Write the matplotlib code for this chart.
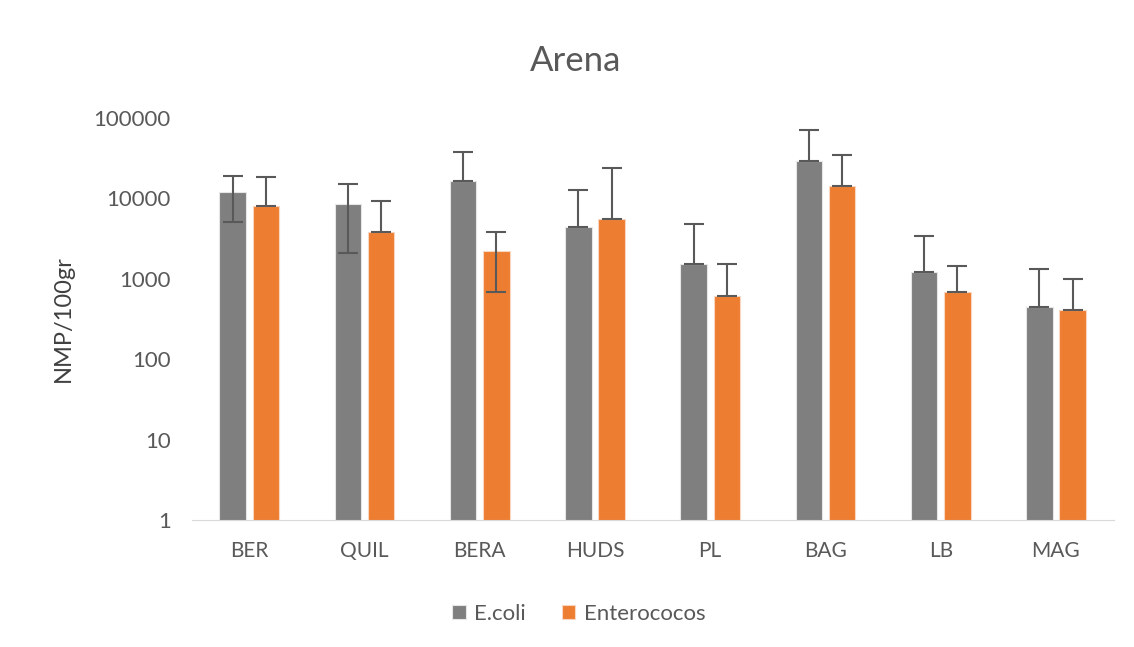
import matplotlib.pyplot as plt
import numpy as np

sites = ['BER', 'QUIL', 'BERA', 'HUDS', 'PL', 'BAG', 'LB', 'MAG']
ecoli = [12100, 8600, 16600, 4450, 1540, 29200, 1220, 440]
ecoli_err = [7000, 6500, 20500, 8250, 3260, 41800, 2130, 870]
entero = [7900, 3800, 2240, 5550, 610, 14300, 690, 405]
entero_err = [10500, 5500, 1550, 18100, 930, 19700, 745, 580]

plt.rcParams['font.family'] = ['Lato', 'DejaVu Sans']


def split_err(vals, errs):
    # excel drops the lower bar when it would go below zero on a log axis
    low = [e if v - e > 0 else 0 for v, e in zip(vals, errs)]
    return [low, errs]


fig = plt.figure(figsize=(11.34, 6.47), dpi=100)
ax = fig.add_axes([0.169, 0.196, 0.813, 0.622])

x = np.arange(len(sites))
w = 0.23
off = 0.145
err_kw = dict(ecolor='#595959', elinewidth=1.5, capsize=7, capthick=1.5)

ax.bar(x - off, ecoli, w, color='#7f7f7f', edgecolor='#e6e6e6', linewidth=0.8,
       yerr=split_err(ecoli, ecoli_err), error_kw=err_kw, label='E.coli')
ax.bar(x + off, entero, w, color='#ed7d31', edgecolor='#f8d6c0', linewidth=0.8,
       yerr=split_err(entero, entero_err), error_kw=err_kw, label='Enterococos')

ax.set_yscale('log')
ax.set_ylim(1, 100000)
ax.set_xlim(-0.5, len(sites) - 0.5)
ax.set_yticks([1, 10, 100, 1000, 10000, 100000])
ax.set_yticklabels(['1', '10', '100', '1000', '10000', '100000'])
ax.minorticks_off()
ax.set_xticks(x)
ax.set_xticklabels(sites)
ax.tick_params(axis='both', length=0, labelcolor='#595959')
ax.tick_params(axis='x', pad=15, labelsize=15)
ax.tick_params(axis='y', pad=15, labelsize=16)

for s in ['top', 'right', 'left']:
    ax.spines[s].set_visible(False)
ax.spines['bottom'].set_color('#d9d9d9')

ax.set_ylabel('NMP/100gr', fontsize=17, color='#404040', labelpad=14)
fig.text(0.508, 0.905, 'Arena', ha='center', va='center', fontsize=25, color='#595959')

ax.legend(loc='center', bbox_to_anchor=(0.42, -0.232), ncol=2, frameon=False,
          fontsize=16, labelcolor='#595959', handlelength=0.6, handleheight=0.6,
          columnspacing=1.6, handletextpad=0.4)

fig.savefig('out.png', dpi=100, facecolor='white')
